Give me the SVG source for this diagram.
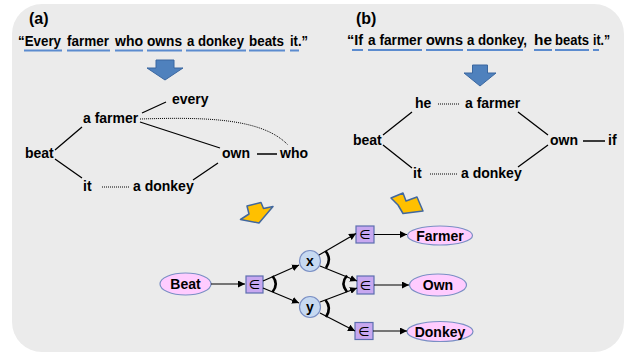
<svg xmlns="http://www.w3.org/2000/svg" width="627" height="353" viewBox="0 0 627 353">
  <defs>
    <marker id="tip" viewBox="0 0 8 8" refX="8" refY="4" markerWidth="7" markerHeight="7" markerUnits="userSpaceOnUse" orient="auto">
      <path d="M0,0 L8,4 L0,8 Z" fill="#000"/>
    </marker>
  </defs>
  <style>
    text { font-family: "Liberation Sans", Arial, sans-serif; font-weight: bold; fill: #000; }
    .head { font-size: 16px; }
    .sent { font-size: 14.5px; }
    .word { font-size: 14px; }
    .lbl { font-size: 14px; text-anchor: middle; }
    .mem { font-family: "DejaVu Sans", sans-serif; font-size: 13px; font-weight: normal; text-anchor: middle; }
    .ul { stroke: #5b8bcf; stroke-width: 2; fill: none; }
    .edge { stroke: #000; stroke-width: 1.3; fill: none; }
    .dot { stroke: #000; stroke-width: 1; stroke-dasharray: 1 1; fill: none; }
    .conn { stroke: #000; stroke-width: 1.2; fill: none; marker-end: url(#tip); }
    .arc { stroke: #000; stroke-width: 2.6; fill: none; }
    .pred { fill: #ffccff; stroke: #7a8fc4; stroke-width: 1.2; }
    .var { fill: #c6d9f1; stroke: #7a8fc4; stroke-width: 1.2; }
    .box { fill: #c8a8f0; stroke: #5d6fb0; stroke-width: 1.2; }
    .down { fill: #4f81bd; stroke: #3a67a0; stroke-width: 1; }
    .fold { fill: #ffc000; stroke: #41679e; stroke-width: 1.5; stroke-linejoin: round; }
  </style>

  <!-- background panel -->
  <rect x="12" y="4" width="612" height="348" rx="30" ry="30" fill="#ebebeb"/>

  <!-- (a) sentence -->
  <g id="sentence-a">
    <text class="head" x="29" y="24">(a)</text>
    <text class="sent" y="46">
      <tspan x="18" textLength="43" lengthAdjust="spacingAndGlyphs">“Every</tspan>
      <tspan x="67" textLength="42" lengthAdjust="spacingAndGlyphs">farmer</tspan>
      <tspan x="115" textLength="28" lengthAdjust="spacingAndGlyphs">who</tspan>
      <tspan x="147" textLength="35" lengthAdjust="spacingAndGlyphs">owns</tspan>
      <tspan x="187" textLength="57" lengthAdjust="spacingAndGlyphs">a donkey</tspan>
      <tspan x="249" textLength="35" lengthAdjust="spacingAndGlyphs">beats</tspan>
      <tspan x="290" textLength="18" lengthAdjust="spacingAndGlyphs">it.”</tspan>
    </text>
    <path class="ul" d="M24,50.5H62 M67,50.5H110 M115,50.5H143 M147,50.5H182 M186,50.5H246 M249,50.5H285 M290,50.5H299"/>
    <polygon class="down" points="156,60 174,60 174,68 183,68 165,80 147,68 156,68"/>
  </g>

  <!-- (b) sentence -->
  <g id="sentence-b">
    <text class="head" x="356" y="24">(b)</text>
    <text class="sent" y="45">
      <tspan x="347" textLength="16" lengthAdjust="spacingAndGlyphs">“If</tspan>
      <tspan x="368" textLength="54" lengthAdjust="spacingAndGlyphs">a farmer</tspan>
      <tspan x="426" textLength="37" lengthAdjust="spacingAndGlyphs">owns</tspan>
      <tspan x="467" textLength="60" lengthAdjust="spacingAndGlyphs">a donkey,</tspan>
      <tspan x="534" textLength="18" lengthAdjust="spacingAndGlyphs">he</tspan>
      <tspan x="555" textLength="34" lengthAdjust="spacingAndGlyphs">beats</tspan>
      <tspan x="593" textLength="17" lengthAdjust="spacingAndGlyphs">it.”</tspan>
    </text>
    <path class="ul" d="M352,50H363 M368,50H422 M426,50H463 M467,50H523 M534,50H552 M555,50H589 M593,50H599"/>
    <polygon class="down" points="472.5,65 487.5,65 487.5,73 496,73 480,86 464,73 472.5,73"/>
  </g>

  <!-- tree (a) -->
  <g id="tree-a">
    <g id="a-every"><text class="word" x="172" y="104">every</text></g>
    <g id="a-farmer"><text class="word" x="83" y="123">a farmer</text></g>
    <g id="a-beat"><text class="word" x="25" y="158">beat</text></g>
    <g id="a-own"><text class="word" x="222" y="158">own</text></g>
    <g id="a-who"><text class="word" x="280" y="158">who</text></g>
    <g id="a-it"><text class="word" x="83" y="191">it</text></g>
    <g id="a-donkey"><text class="word" x="133" y="191">a donkey</text></g>
  </g>
  <g id="tree-a-edges">
    <path class="edge" d="M142,113L166,102 M55,150L82,127 M55,159L82,178 M140,122L220,148 M193,180L218,163 M257,154H277"/>
    <path class="dot" d="M102,187H130 M140,119C205,117 262,118 288,145"/>
  </g>

  <!-- tree (b) -->
  <g id="tree-b">
    <g id="b-he"><text class="word" x="415" y="108">he</text></g>
    <g id="b-farmer"><text class="word" x="465" y="108">a farmer</text></g>
    <g id="b-beat"><text class="word" x="353" y="145">beat</text></g>
    <g id="b-own"><text class="word" x="550" y="145">own</text></g>
    <g id="b-if"><text class="word" x="608" y="145">if</text></g>
    <g id="b-it"><text class="word" x="413" y="178">it</text></g>
    <g id="b-donkey"><text class="word" x="461" y="178">a donkey</text></g>
  </g>
  <g id="tree-b-edges">
    <path class="edge" d="M383,135L412,112 M383,145L412,168 M518,112L548,135 M518,167L548,145 M583,141H605"/>
    <path class="dot" d="M438,104H460 M430,174H458"/>
  </g>

  <!-- folded arrows -->
  <polygon class="fold" points="247,206 261,202.5 263.5,208.5 273,206.5 259,223 240.5,219.5 249,214"/>
  <polygon class="fold" points="391,198 403,193 406,201 417,197 423,211 403,213.5 398,205"/>

  <!-- logical graph -->
  <g id="n-beat"><ellipse class="pred" cx="185.5" cy="284" rx="25.5" ry="11"/><text class="lbl" x="185.5" y="289">Beat</text></g>
  <g id="n-m0"><rect class="box" x="246" y="276" width="17" height="17"/><text class="mem" x="254.5" y="289">∈</text></g>
  <g id="n-x"><circle class="var" cx="310" cy="261" r="10.5"/><text class="lbl" x="310" y="266">x</text></g>
  <g id="n-y"><circle class="var" cx="310" cy="307" r="10.5"/><text class="lbl" x="310" y="312">y</text></g>
  <g id="n-m1"><rect class="box" x="356" y="226" width="18" height="17"/><text class="mem" x="365" y="239">∈</text></g>
  <g id="n-m2"><rect class="box" x="357" y="276" width="17" height="18"/><text class="mem" x="365.5" y="289.5">∈</text></g>
  <g id="n-m3"><rect class="box" x="355" y="322.5" width="18" height="17"/><text class="mem" x="364" y="335.5">∈</text></g>
  <g id="n-farmer"><ellipse class="pred" cx="440" cy="235.5" rx="32.5" ry="9.5"/><text class="lbl" x="440" y="240.5">Farmer</text></g>
  <g id="n-own"><ellipse class="pred" cx="438" cy="285" rx="28.5" ry="11"/><text class="lbl" x="438" y="290">Own</text></g>
  <g id="n-donkey"><ellipse class="pred" cx="440" cy="331.5" rx="33" ry="10"/><text class="lbl" x="440" y="336.5">Donkey</text></g>

  <g id="connectors">
    <path class="conn" d="M211,284H245"/>
    <path class="conn" d="M263,281L299,265"/>
    <path class="conn" d="M263,288L299,303"/>
    <path class="conn" d="M319,255L356,233.5"/>
    <path class="conn" d="M320,266L357,281"/>
    <path class="conn" d="M320,302L357,288"/>
    <path class="conn" d="M320,313L355,331"/>
    <path class="conn" d="M374,234.5H407"/>
    <path class="conn" d="M374,285H409"/>
    <path class="conn" d="M373,331H407"/>
    <path class="arc" d="M272.5,276Q279,284 272.5,292"/>
    <path class="arc" d="M325.5,251Q332,259 326,268"/>
    <path class="arc" d="M325.5,300Q332,308 326,317"/>
    <path class="arc" d="M347,275.5Q340,283.5 347,292"/>
  </g>
</svg>
